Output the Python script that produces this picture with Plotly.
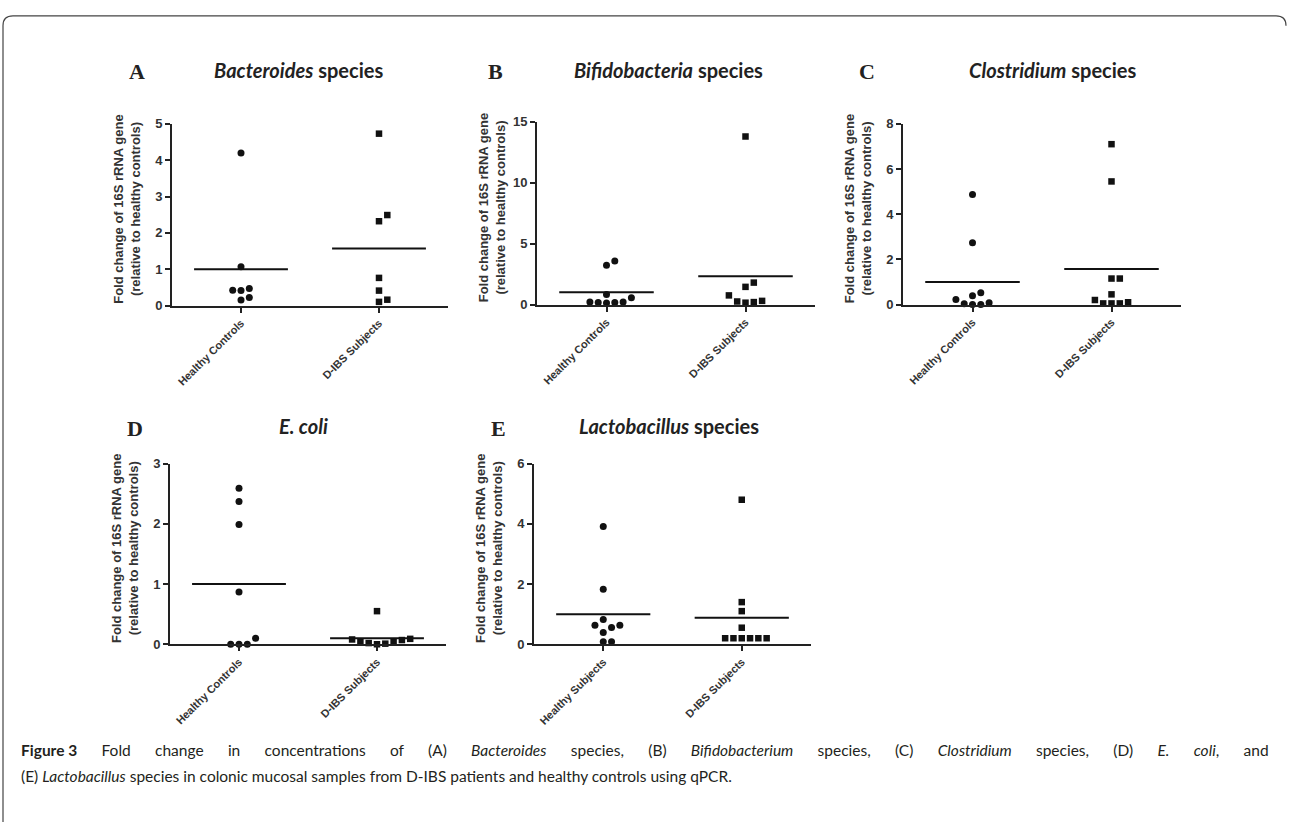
import plotly.graph_objects as go

W, H = 1289, 830

# ---------------- data ----------------
cats_ctrl = ["Healthy Controls", "D-IBS Subjects"]
cats_subj = ["Healthy Subjects", "D-IBS Subjects"]

bacteroides_hc = [4.2, 1.07, 0.47, 0.42, 0.41, 0.22, 0.15]
bacteroides_ibs = [4.73, 2.49, 2.32, 0.76, 0.41, 0.16, 0.10]
bacteroides_mean = [1.0, 1.57]

bifido_hc = [3.57, 3.23, 0.83, 0.56, 0.20, 0.16, 0.13, 0.16, 0.20]
bifido_ibs = [13.8, 1.80, 1.45, 0.75, 0.30, 0.25, 0.20, 0.15]
bifido_mean = [1.0, 2.33]

clostridium_hc = [4.87, 2.74, 0.52, 0.39, 0.22, 0.03, 0.0, 0.0, 0.08]
clostridium_ibs = [7.10, 5.45, 1.15, 1.15, 0.45, 0.20, 0.10, 0.05, 0.05, 0.05]
clostridium_mean = [1.0, 1.57]

ecoli_hc = [2.59, 2.37, 1.99, 0.87, 0.10, 0.0, 0.0, 0.0]
ecoli_ibs = [0.55, 0.09, 0.08, 0.05, 0.02, 0.0, 0.01, 0.04, 0.07]
ecoli_mean = [1.0, 0.10]

lacto_hc = [3.91, 1.83, 0.82, 0.63, 0.56, 0.63, 0.39, 0.08, 0.08]
lacto_ibs = [4.80, 1.40, 1.10, 0.55, 0.20, 0.20, 0.20, 0.20, 0.20, 0.20]
lacto_mean = [1.0, 0.88]

ytick_A = [0, 1, 2, 3, 4, 5]
ytick_B = [0, 5, 10, 15]
ytick_C = [0, 2, 4, 6, 8]
ytick_D = [0, 1, 2, 3]
ytick_E = [0, 2, 4, 6]

titles = [
    ("A", "<i>Bacteroides</i> species"),
    ("B", "<i>Bifidobacteria</i> species"),
    ("C", "<i>Clostridium</i> species"),
    ("D", "<i>E. coli</i>"),
    ("E", "<i>Lactobacillus</i> species"),
]
ytitle = "Fold change of 16S rRNA gene<br>(relative to healthy controls)"
caption1_words = ["<b>Figure 3</b>", "Fold", "change", "in", "concentrations", "of", "(A)",
                  "<i>Bacteroides</i>", "species,", "(B)", "<i>Bifidobacterium</i>", "species,",
                  "(C)", "<i>Clostridium</i>", "species,", "(D)", "<i>E.</i>", "<i>coli</i>,", "and"]
caption2 = ("(E) <i>Lactobacillus</i> species in colonic mucosal samples from D-IBS patients "
            "and healthy controls using qPCR.")

panel_data = [
    (bacteroides_hc, bacteroides_ibs, bacteroides_mean, ytick_A, cats_ctrl),
    (bifido_hc, bifido_ibs, bifido_mean, ytick_B, cats_ctrl),
    (clostridium_hc, clostridium_ibs, clostridium_mean, ytick_C, cats_ctrl),
    (ecoli_hc, ecoli_ibs, ecoli_mean, ytick_D, cats_ctrl),
    (lacto_hc, lacto_ibs, lacto_mean, ytick_E, cats_subj),
]

# ---------------- layout (pixels) ----------------
geom = [
    dict(x0=172, x1=448, y0=304, y1=119, lx=137, tx=212, ty=66),
    dict(x0=537, x1=815, y0=303, y1=117, lx=495, tx=572, ty=66),
    dict(x0=903, x1=1181, y0=303, y1=119, lx=867, tx=967, ty=66),
    dict(x0=170, x1=446, y0=649, y1=465, lx=135, tx=277, ty=429),
    dict(x0=534, x1=811, y0=649, y1=465, lx=498, tx=577, ty=429),
]
XMAX = 4.0
CAT_POS = [1, 3]
HALF = 0.68
INK = "#111111"
AX = "#222222"
DIAM = 8.3
JUSTIFY_GAP = " \u2002\u2002\u2009\u2009\u200a"


def px2x(p):
    return p / W


def px2y(p):
    return 1 - p / H


def swarm(values, ppu_y, ppu_x, diam):
    placed = []
    offs = [0.0] * len(values)
    order = sorted(range(len(values)), key=lambda i: values[i])
    cands = [0]
    for m in range(1, 12):
        cands += [m, -m]
    for i in order:
        yp = values[i] * ppu_y
        xo = 0.0
        for c in cands:
            xo = c * diam
            if all((xo - a) ** 2 + (yp - b) ** 2 >= (diam * 0.97) ** 2 for a, b in placed):
                break
        placed.append((xo, yp))
        offs[i] = xo / ppu_x
    return offs


fig = go.Figure()
annotations = []

for k, ((hc, ibs, means, yt, cats), g) in enumerate(zip(panel_data, geom)):
    n = k + 1
    xa = "x" if n == 1 else f"x{n}"
    ya = "y" if n == 1 else f"y{n}"
    ymax = yt[-1]
    ppu_y = (g["y0"] - g["y1"]) / ymax
    ppu_x = (g["x1"] - g["x0"]) / XMAX

    for ci, (vals, sym) in enumerate([(hc, "circle"), (ibs, "square")]):
        offs = swarm(vals, ppu_y, ppu_x, DIAM)
        fig.add_trace(go.Scatter(
            x=[CAT_POS[ci] + o for o in offs], y=vals, mode="markers",
            marker=dict(symbol=sym, size=7 if sym == "circle" else 6.5, color=INK, line=dict(width=0)),
            xaxis=xa, yaxis=ya, cliponaxis=False, showlegend=False, hoverinfo="y"))
        fig.add_trace(go.Scatter(
            x=[CAT_POS[ci] - HALF, CAT_POS[ci] + HALF], y=[means[ci], means[ci]], mode="lines",
            line=dict(color=INK, width=2), xaxis=xa, yaxis=ya, cliponaxis=False,
            showlegend=False, hoverinfo="skip"))

    axcommon = dict(showline=True, linewidth=2, linecolor=AX, ticks="outside", ticklen=5,
                    tickwidth=2, tickcolor=AX, showgrid=False, zeroline=False, fixedrange=True)
    fig.layout[("xaxis" if n == 1 else f"xaxis{n}")] = dict(
        domain=[px2x(g["x0"]), px2x(g["x1"])], range=[0, XMAX], anchor=ya,
        tickvals=CAT_POS, ticktext=cats, tickangle=-45,
        tickfont=dict(family="Liberation Sans, Arial", size=11, color="#333333", weight="bold"),
        **axcommon)
    fig.layout[("yaxis" if n == 1 else f"yaxis{n}")] = dict(
        domain=[px2y(g["y0"]), px2y(g["y1"])], range=[0, ymax], anchor=xa,
        tickvals=yt, ticktext=[str(v) for v in yt],
        tickfont=dict(family="Liberation Sans, Arial", size=13, color="#333333", weight="bold"),
        **axcommon)

    annotations.append(dict(
        x=px2x(g["x0"] - 45), y=px2y((g["y0"] + g["y1"]) / 2 - 6), xref="paper", yref="paper",
        text="<b>" + ytitle + "</b>", textangle=-90, showarrow=False,
        font=dict(family="Liberation Sans, Arial", size=13, color="#333333"),
        xanchor="center", yanchor="middle"))
    letter, ttl = titles[k]
    annotations.append(dict(
        x=px2x(g["lx"]), y=px2y(g["ty"]), xref="paper", yref="paper", text="<b>" + letter + "</b>",
        showarrow=False, font=dict(family="Liberation Serif, Times New Roman", size=22, color="#222222"),
        xanchor="center", yanchor="middle"))
    annotations.append(dict(
        x=px2x(g["tx"]), y=px2y(g["ty"] - 2), xref="paper", yref="paper", text="<b>" + ttl + "</b>",
        showarrow=False, font=dict(family="Lato, Open Sans", size=20, color="#222222"),
        xanchor="left", yanchor="middle"))

caption1 = JUSTIFY_GAP.join(caption1_words)
for txt, yy in [(caption1, 757), (caption2, 783)]:
    annotations.append(dict(
        x=px2x(19), y=px2y(yy), xref="paper", yref="paper", text=txt, showarrow=False,
        font=dict(family="Lato, Open Sans", size=15.5, color="#231f20"),
        xanchor="left", yanchor="middle"))

shapes = [
    dict(type="path", xref="paper", yref="paper",
         path=(f"M {px2x(3)},{px2y(830)} L {px2x(3)},{px2y(19)} "
               f"Q {px2x(3)},{px2y(9)} {px2x(13)},{px2y(9)} "
               f"L {px2x(1276)},{px2y(9)} Q {px2x(1286)},{px2y(9)} {px2x(1286)},{px2y(19)}"),
         line=dict(color="#444444", width=1.2)),
]

fig.update_layout(
    width=W, height=H, margin=dict(l=0, r=0, t=0, b=0),
    paper_bgcolor="white", plot_bgcolor="white",
    annotations=annotations, shapes=shapes, showlegend=False,
)

fig.write_html("out.html", config={"displayModeBar": False},
               post_script="document.body.style.margin='0';document.body.style.overflow='hidden';")
